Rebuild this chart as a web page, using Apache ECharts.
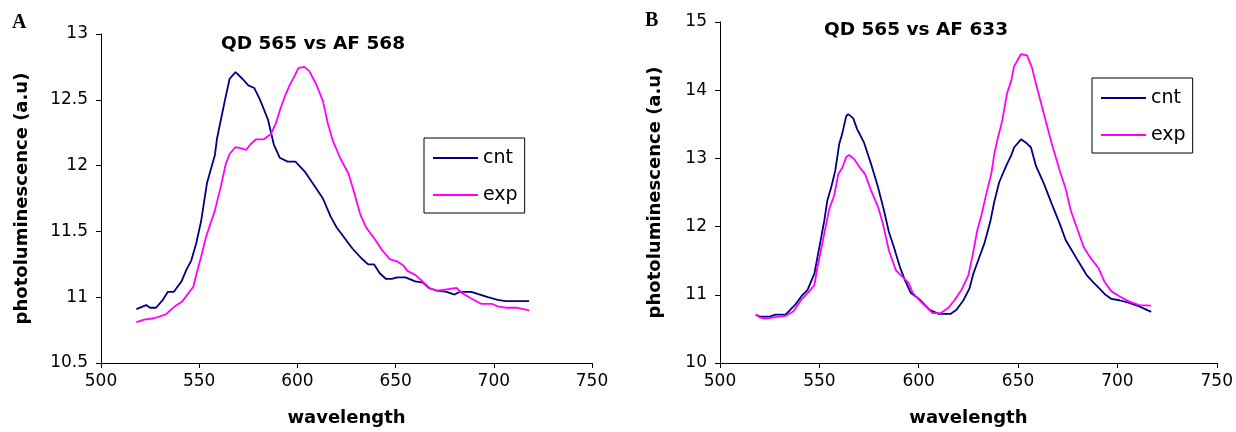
<!DOCTYPE html>
<html>
<head>
<meta charset="utf-8">
<script src="https://cdn.jsdelivr.net/npm/echarts@6/dist/echarts.min.js"></script>
<style>html,body{margin:0;padding:0;background:#fff}#c{width:1236px;height:432px}</style>
</head>
<body>
<div id="c"></div>
<script>
// Panel A: QD 565 vs AF 568
const aCntWl  = [518,523,525,528,531.5,534,537,541,543.5,546,548.5,551,554,558,559,563,565.5,568.5,572,575,578,581,585,588,591,595,599,604,609,613,617,620,624,628,633,636,639,642,645,648,651,655,660,664,667,671,676,680,682.5,688.5,693,697,702,706,711,718];
const aCntVal = [10.91,10.94,10.92,10.92,10.98,11.04,11.04,11.12,11.21,11.28,11.41,11.58,11.87,12.08,12.20,12.49,12.66,12.71,12.66,12.61,12.59,12.50,12.35,12.16,12.06,12.03,12.03,11.95,11.84,11.75,11.61,11.53,11.45,11.37,11.29,11.25,11.25,11.18,11.14,11.14,11.15,11.15,11.12,11.11,11.07,11.05,11.04,11.02,11.04,11.04,11.02,11.00,10.98,10.97,10.97,10.97];
const aExpWl  = [518,522,527,533,537.5,541.5,544,547,548.5,551,553.5,558,561,563.5,565.5,568.5,571.5,574,576,579,583,586.5,589,591.5,594,596,598.5,600.5,603.5,606,609.5,613,615.5,618,622,626,629,632,635,639,643,647,651,654,656,660,663,667,671,676,681,684,688.5,693.5,699,702,706,711.5,718];
const aExpVal = [10.81,10.83,10.84,10.87,10.93,10.97,11.02,11.08,11.17,11.31,11.46,11.66,11.84,12.01,12.09,12.14,12.13,12.12,12.16,12.20,12.20,12.24,12.32,12.44,12.54,12.61,12.68,12.74,12.75,12.72,12.62,12.49,12.32,12.19,12.05,11.94,11.79,11.63,11.53,11.45,11.36,11.29,11.27,11.24,11.20,11.17,11.13,11.07,11.05,11.06,11.07,11.03,10.99,10.95,10.95,10.93,10.92,10.92,10.90];

// Panel B: QD 565 vs AF 633
const bCntWl  = [518,520,525,528,533,538,541,544,547.5,550,552.5,554,556,558,560,561.5,563.5,564.5,567,569,572.5,576,579.5,582.5,585,587.5,590.5,593,596,600.5,605.5,610,616,619,622.5,625.5,627.5,630,633,636,638,640.5,644,646.5,648,651.5,654,656.5,659,663,667,671,674,676.5,679.5,682,684.5,688,691,694,697,701,706,711,717];
const bCntVal = [10.71,10.68,10.68,10.71,10.71,10.86,10.98,11.07,11.31,11.70,12.09,12.38,12.58,12.82,13.21,13.36,13.62,13.65,13.59,13.43,13.23,12.92,12.58,12.24,11.92,11.70,11.41,11.22,11.03,10.93,10.78,10.72,10.72,10.78,10.92,11.09,11.31,11.51,11.75,12.07,12.36,12.65,12.89,13.04,13.16,13.28,13.23,13.16,12.89,12.63,12.33,12.04,11.80,11.68,11.53,11.41,11.29,11.18,11.09,11.00,10.94,10.92,10.88,10.83,10.75];
const bExpWl  = [518,520,522.5,527,533,537,541,544,547.5,549,550.5,552.5,555,557.5,559.5,561.5,563.5,565,567.5,570,573,576,579.5,582,585,588.5,592,595,597,601,607,611,615,618,621.5,625,627,629.5,631.5,634,636.5,638,639.5,642,644.5,646.5,648,651.5,654.5,657,659.5,663,667,671,674,676.5,679.5,683,686,690.5,693.5,697,701,706,711,717];
const bExpVal = [10.71,10.67,10.65,10.67,10.69,10.76,10.93,11.02,11.14,11.40,11.61,11.90,12.26,12.46,12.77,12.86,13.02,13.05,12.99,12.88,12.77,12.53,12.29,12.04,11.65,11.36,11.26,11.17,11.03,10.90,10.73,10.73,10.81,10.92,11.07,11.29,11.56,11.95,12.16,12.48,12.77,13.06,13.26,13.55,13.96,14.13,14.35,14.53,14.51,14.33,14.04,13.65,13.21,12.82,12.55,12.24,11.99,11.70,11.56,11.39,11.19,11.05,10.98,10.90,10.85,10.84];

const seriesNames = ['cnt', 'exp'];
const titles = ['QD 565 vs AF 568', 'QD 565 vs AF 633'];
const panelLetters = ['A', 'B'];
const xLabel = 'wavelength';
const yLabel = 'photoluminescence (a.u)';

const FONT = 'DejaVu Sans';
const COL_CNT = '#000080';
const COL_EXP = '#FF00FF';

function zip(a, b) { return a.map((x, i) => [x, b[i]]); }

function xAxisCfg(idx) {
  return {
    gridIndex: idx, type: 'value', min: 500, max: 750, interval: 50,
    name: xLabel, nameLocation: 'middle', nameGap: 46,
    nameTextStyle: { fontFamily: FONT, fontWeight: 'bold', fontSize: 18, color: '#000' },
    axisLine: { show: true, onZero: false, lineStyle: { color: '#000', width: 1 } },
    axisTick: { show: true, inside: false, length: 5, lineStyle: { color: '#000' } },
    axisLabel: { fontFamily: FONT, fontSize: 17, color: '#000', margin: 10 },
    splitLine: { show: false }
  };
}
function yAxisCfg(idx, min, max, interval, gap) {
  return {
    gridIndex: idx, type: 'value', min: min, max: max, interval: interval,
    name: yLabel, nameLocation: 'middle', nameGap: gap, nameRotate: 90,
    nameTextStyle: { fontFamily: FONT, fontWeight: 'bold', fontSize: 18, color: '#000' },
    axisLine: { show: true, onZero: false, lineStyle: { color: '#000', width: 1 } },
    axisTick: { show: true, inside: false, length: 5, lineStyle: { color: '#000' } },
    axisLabel: { fontFamily: FONT, fontSize: 17, color: '#000', margin: 13 },
    splitLine: { show: false }
  };
}
function lineSeries(name, color, xi, data) {
  return {
    name: name, type: 'line', xAxisIndex: xi, yAxisIndex: xi,
    data: data, showSymbol: false, symbol: 'none', smooth: false,
    color: color, lineStyle: { color: color, width: 1.8 },
    itemStyle: { color: color }, silent: true, animation: false
  };
}
function legendCfg(left, top) {
  return {
    orient: 'vertical', left: left, top: top,
    padding: [9, 7, 7, 9], itemGap: 15, itemWidth: 45, itemHeight: 2,
    icon: 'rect', borderColor: '#000', borderWidth: 1, backgroundColor: '#fff',
    textStyle: { fontFamily: FONT, fontSize: 19, lineHeight: 22, color: '#000' },
    data: seriesNames, selectedMode: false
  };
}

const chart = echarts.init(document.getElementById('c'), null, { renderer: 'canvas' });
chart.setOption({
  backgroundColor: '#fff',
  animation: false,
  title: [
    { text: titles[0], left: 313, top: 34, textAlign: 'center', padding: 0,
      textStyle: { fontFamily: FONT, fontWeight: 'bold', fontSize: 18.5, lineHeight: 20, color: '#000' } },
    { text: titles[1], left: 916, top: 20, textAlign: 'center', padding: 0,
      textStyle: { fontFamily: FONT, fontWeight: 'bold', fontSize: 18.5, lineHeight: 20, color: '#000' } }
  ],
  grid: [
    { left: 101, right: 644, top: 34, bottom: 67, containLabel: false },
    { left: 720, right: 19, top: 22, bottom: 67, containLabel: false }
  ],
  xAxis: [xAxisCfg(0), xAxisCfg(1)],
  yAxis: [yAxisCfg(0, 10.5, 13, 0.5, 70), yAxisCfg(1, 10, 15, 1, 56)],
  legend: [legendCfg(424, 138), legendCfg(1092, 78)],
  graphic: [
    { type: 'text', left: 12, top: 13, style: { text: panelLetters[0], font: 'bold 20px "Liberation Serif"', fill: '#000' } },
    { type: 'text', left: 645, top: 11, style: { text: panelLetters[1], font: 'bold 20px "Liberation Serif"', fill: '#000' } }
  ],
  series: [
    lineSeries(seriesNames[0], COL_CNT, 0, zip(aCntWl, aCntVal)),
    lineSeries(seriesNames[1], COL_EXP, 0, zip(aExpWl, aExpVal)),
    lineSeries(seriesNames[0], COL_CNT, 1, zip(bCntWl, bCntVal)),
    lineSeries(seriesNames[1], COL_EXP, 1, zip(bExpWl, bExpVal))
  ]
});
</script>
</body>
</html>
